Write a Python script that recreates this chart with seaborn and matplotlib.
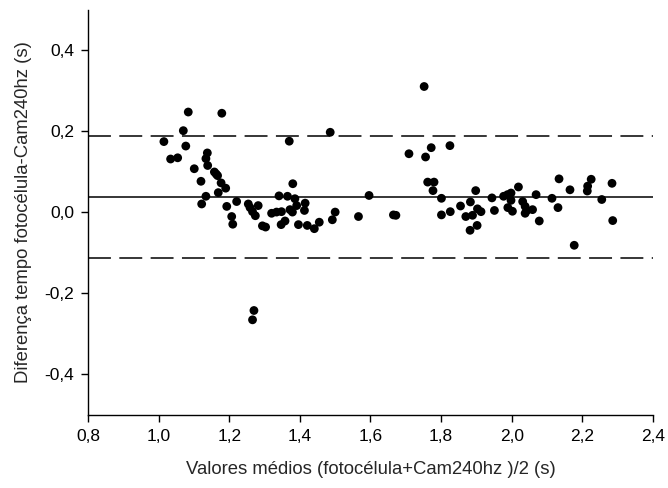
import matplotlib
matplotlib.use("Agg")
import matplotlib.pyplot as plt
import seaborn as sns
import pandas as pd

# valores médios (x) e diferenças (y)
media = [1.015, 1.034, 1.054, 1.070, 1.077, 1.084, 1.101, 1.120, 1.122, 1.134,
         1.134, 1.138, 1.139, 1.158, 1.163, 1.167, 1.169, 1.177, 1.179, 1.190,
         1.193, 1.207, 1.210, 1.221, 1.254, 1.259, 1.266, 1.274, 1.282, 1.270,
         1.266, 1.294, 1.303, 1.320, 1.334, 1.348, 1.341, 1.347, 1.358, 1.365,
         1.370, 1.372, 1.379, 1.380, 1.386, 1.391, 1.396, 1.413, 1.415, 1.421,
         1.441, 1.455, 1.486, 1.492, 1.500,
         1.566, 1.596, 1.665, 1.672, 1.709, 1.752, 1.756, 1.762, 1.772, 1.777,
         1.780, 1.801, 1.801, 1.825, 1.826,
         1.855, 1.870, 1.882, 1.883, 1.889, 1.898, 1.902, 1.903, 1.913, 1.944,
         1.951, 1.977, 1.988, 1.989, 1.998, 1.998, 2.002, 2.019, 2.031, 2.038,
         2.043, 2.038, 2.059, 2.069, 2.078, 2.114, 2.131, 2.134, 2.165, 2.177,
         2.214, 2.215, 2.225, 2.255, 2.284, 2.286]
diferenca = [0.175, 0.132, 0.135, 0.202, 0.164, 0.248, 0.108, 0.077, 0.021, 0.040,
             0.133, 0.147, 0.116, 0.100, 0.095, 0.091, 0.049, 0.073, 0.245, 0.060,
             0.015, -0.010, -0.029, 0.027, 0.021, 0.012, 0.002, -0.008, 0.017, -0.242,
             -0.265, -0.033, -0.036, -0.002, 0.001, 0.002, 0.041, -0.030, -0.021, 0.040,
             0.176, 0.007, 0.001, 0.071, 0.034, 0.017, -0.030, 0.005, 0.023, -0.032,
             -0.040, -0.024, 0.198, -0.018, 0.001,
             -0.010, 0.042, -0.006, -0.007, 0.145, 0.311, 0.137, 0.075, 0.160, 0.054,
             0.075, 0.035, -0.006, 0.165, 0.002,
             0.016, -0.010, -0.044, 0.026, -0.007, 0.054, -0.032, 0.009, 0.002, 0.036,
             0.005, 0.040, 0.044, 0.012, 0.048, 0.030, 0.003, 0.063, 0.027, 0.015,
             0.005, -0.002, 0.007, 0.044, -0.021, 0.035, 0.012, 0.083, 0.056, -0.081,
             0.053, 0.065, 0.082, 0.032, 0.072, -0.020]

vies = 0.038
limite_sup = 0.190
limite_inf = -0.112

xticks = [0.8, 1.0, 1.2, 1.4, 1.6, 1.8, 2.0, 2.2, 2.4]
yticks = [-0.4, -0.2, 0.0, 0.2, 0.4]

df = pd.DataFrame({"media": media, "diferenca": diferenca})

sns.set_style("ticks")
plt.rcParams['font.family'] = ['Liberation Sans', 'DejaVu Sans']

fig = plt.figure(figsize=(6.68, 4.88), dpi=100)
ax = fig.add_axes([0.1317, 0.1496, 0.8458, 0.83])

ax.axhline(vies, color='black', lw=1.1)
ax.axhline(limite_sup, color='black', lw=1.1, dashes=(15, 5.5))
ax.axhline(limite_inf, color='black', lw=1.1, dashes=(15, 5.5))

sns.scatterplot(x='media', y='diferenca', data=df, color='black', s=40,
                edgecolor='none', ax=ax, zorder=3)

ax.set_xlim(0.8, 2.4)
ax.set_ylim(-0.5, 0.5)
ax.set_xticks(xticks)
ax.set_yticks(yticks)
ax.set_xticklabels([f"{v:.1f}".replace('.', ',') for v in xticks])
ax.set_yticklabels([f"{v:.1f}".replace('.', ',') for v in yticks])
ax.tick_params(direction='out', length=5, width=1, colors='black', labelsize=12.5, pad=5)

for s in ['top', 'right']:
    ax.spines[s].set_visible(False)
for s in ['left', 'bottom']:
    ax.spines[s].set_linewidth(1)
    ax.spines[s].set_color('black')

ax.set_xlabel('Valores médios (fotocélula+Cam240hz )/2 (s)', fontsize=13.3, labelpad=12)
ax.set_ylabel('Diferença tempo fotocélula-Cam240hz (s)', fontsize=13.3, labelpad=9)

fig.savefig('out.png', dpi=100)
